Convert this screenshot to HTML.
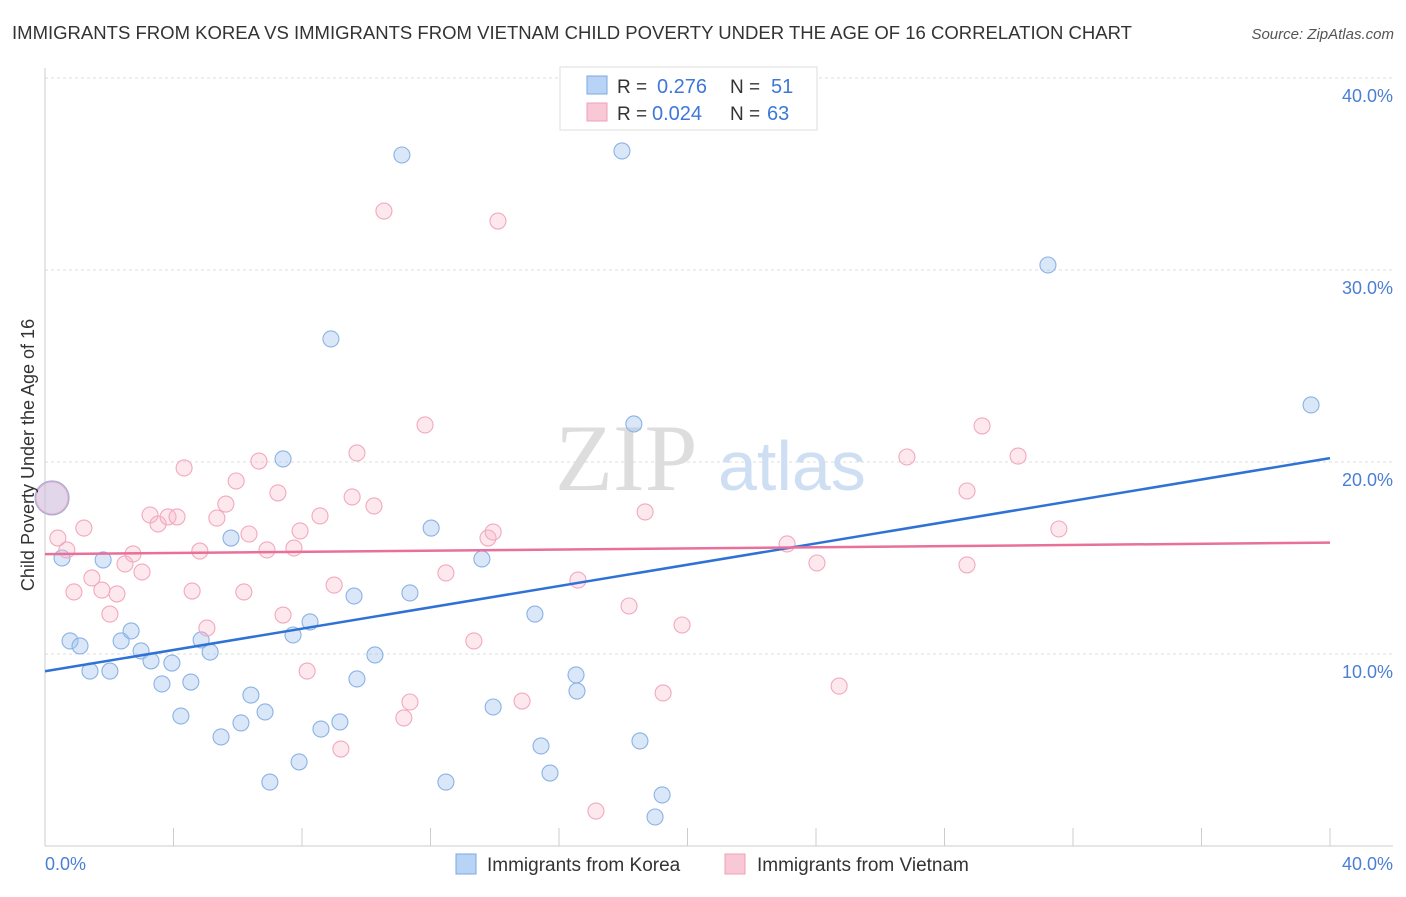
<!DOCTYPE html>
<html><head><meta charset="utf-8"><style>
body{margin:0;background:#fff;font-family:"Liberation Sans",sans-serif}
</style></head><body>
<svg width="1406" height="892" xmlns="http://www.w3.org/2000/svg" font-family="Liberation Sans, sans-serif">
<text x="12" y="39" font-size="18" fill="#333" textLength="1120" lengthAdjust="spacingAndGlyphs">IMMIGRANTS FROM KOREA VS IMMIGRANTS FROM VIETNAM CHILD POVERTY UNDER THE AGE OF 16 CORRELATION CHART</text>
<text x="1394" y="39" font-size="15" fill="#555" font-style="italic" text-anchor="end">Source: ZipAtlas.com</text>
<g id="grid"></g>
<line x1="45" y1="68" x2="45" y2="846" stroke="#ccc"/>
<line x1="45" y1="846" x2="1393" y2="846" stroke="#ccc"/>
<g id="ticks"></g>
<text x="555" y="490" font-size="95" fill="#ddd" font-family="Liberation Serif, serif">ZIP</text>
<text x="718" y="490" font-size="70" fill="#cfdff3">atlas</text>
<g id="pts"></g>
<g id="trend"></g>
<text transform="translate(34,455) rotate(-90)" font-size="18" fill="#333" text-anchor="middle">Child Poverty Under the Age of 16</text>
<text x="45" y="870" font-size="18" fill="#4a7fd4">0.0%</text>
<text x="1393" y="870" font-size="18" fill="#4a7fd4" text-anchor="end">40.0%</text>
<g>
<rect x="560" y="67" width="257" height="63" fill="#fff" stroke="#ddd"/>
<rect x="587" y="76" width="20" height="18" fill="#b8d3f5" stroke="#7aa8e0"/>
<rect x="587" y="103" width="20" height="18" fill="#f9c8d6" stroke="#f0a0b8"/>
<text x="617" y="93" font-size="19" fill="#333">R =</text>
<text x="657" y="93" font-size="20" fill="#3d78d8">0.276</text>
<text x="730" y="93" font-size="19" fill="#333">N =</text>
<text x="771" y="93" font-size="20" fill="#3d78d8">51</text>
<text x="617" y="120" font-size="19" fill="#333">R =</text>
<text x="652" y="120" font-size="20" fill="#3d78d8">0.024</text>
<text x="730" y="120" font-size="19" fill="#333">N =</text>
<text x="767" y="120" font-size="20" fill="#3d78d8">63</text>
</g>
<g>
<rect x="456" y="854" width="20" height="20" fill="#b8d3f5" stroke="#7aa8e0"/>
<text x="487" y="871" font-size="19" fill="#333">Immigrants from Korea</text>
<rect x="725" y="854" width="20" height="20" fill="#f9c8d6" stroke="#f0a0b8"/>
<text x="757" y="871" font-size="19" fill="#333">Immigrants from Vietnam</text>
</g>
</svg>
<script>
const yTicks=[10,20,30,40];
const yTickLabels=["10.0%","20.0%","30.0%","40.0%"];
const koreaX=[0.22,0.53,0.78,1.09,1.40,1.81,2.02,2.37,2.68,2.99,3.30,3.64,3.95,4.23,4.54,4.86,5.14,5.48,5.79,6.10,6.41,6.85,7.00,7.41,7.72,7.91,8.25,8.59,8.90,9.18,9.62,9.71,10.27,11.11,11.36,12.02,12.48,13.60,13.95,15.25,15.44,15.72,16.53,16.56,17.96,18.33,18.52,18.99,19.21,31.22,39.41];
const koreaY=[18.13,15.0,10.68,10.42,9.11,14.9,9.11,10.68,11.2,10.16,9.64,8.44,9.53,6.77,8.54,10.73,10.10,5.68,16.04,6.41,7.86,6.98,3.33,20.16,10.99,4.38,11.67,6.09,26.41,6.46,13.02,8.70,9.95,35.99,13.18,16.56,3.33,14.95,7.24,12.08,5.21,3.80,8.91,8.07,36.2,21.98,5.47,1.51,2.66,30.26,22.97];
const vietX=[0.22,0.40,0.68,0.90,1.21,1.46,1.77,2.02,2.24,2.49,2.74,3.02,3.27,3.52,3.83,4.11,4.33,4.58,4.82,5.04,5.35,5.63,5.95,6.19,6.35,6.66,6.91,7.25,7.41,7.75,7.94,8.16,8.56,9.00,9.21,9.56,9.71,10.24,10.55,11.17,11.36,11.83,12.48,13.35,13.79,13.95,14.10,14.85,16.59,17.15,18.18,18.68,19.24,19.83,23.10,24.03,24.72,26.83,28.70,28.70,29.17,30.29,31.56];
const vietY=[18.13,16.04,15.42,13.23,16.56,13.96,13.33,12.08,13.13,14.69,15.21,14.27,17.24,16.77,17.14,17.14,19.69,13.28,15.36,11.35,17.08,17.81,19.01,13.23,16.25,20.05,15.42,18.39,12.03,15.52,16.41,9.11,17.19,13.59,5.05,18.18,20.47,17.71,33.07,6.67,7.5,21.93,14.22,10.68,16.04,16.35,32.55,7.55,13.85,1.82,12.5,17.40,7.97,11.51,15.73,14.74,8.33,20.26,18.49,14.64,21.88,20.31,16.51];
const koreaTrend=[9.1,20.2];
const vietTrend=[15.2,15.8];
const NS="http://www.w3.org/2000/svg";
const X=v=>45+v/40*1285, Y=v=>846-v*19.2;
function mk(t,a,p){const e=document.createElementNS(NS,t);for(const k in a)e.setAttribute(k,a[k]);p.appendChild(e);return e;}
const grid=document.getElementById('grid');
yTicks.forEach((t,i)=>{
 const l=mk('line',{x1:45,x2:1393,y1:Y(t),y2:Y(t),stroke:'#ddd','stroke-dasharray':'3,3'},grid);
 
 
 const tx=mk('text',{x:1393,y:Y(t)+24,'font-size':18,fill:'#4a7fd4','text-anchor':'end'},grid);
 tx.textContent=yTickLabels[i];
 
 
});
const tk=document.getElementById('ticks');
for(let i=0;i<=10;i++){const l=mk('line',{x1:X(i*4),x2:X(i*4),y1:828,y2:846,stroke:'#ccc'},tk);
 
 }
const pts=document.getElementById('pts');
koreaX.forEach((v,i)=>{const c=mk('circle',{cx:X(v),cy:Y(koreaY[i]),r:i==0?17:8,fill:'rgba(160,196,240,0.4)',stroke:'#8ab2e4','stroke-width':1.1},pts);
 
 });
vietX.forEach((v,i)=>{const c=mk('circle',{cx:X(v),cy:Y(vietY[i]),r:i==0?16:8,fill:'rgba(248,180,200,0.3)',stroke:'#f2a8bf','stroke-width':1.1},pts);
 
 });
const tr=document.getElementById('trend');
const a=mk('line',{x1:X(0),y1:Y(koreaTrend[0]),x2:X(40),y2:Y(koreaTrend[1]),stroke:'#2f72d6','stroke-width':2.5},tr);


const b=mk('line',{x1:X(0),y1:Y(vietTrend[0]),x2:X(40),y2:Y(vietTrend[1]),stroke:'#e8709a','stroke-width':2.5},tr);


</script>
</body></html>
